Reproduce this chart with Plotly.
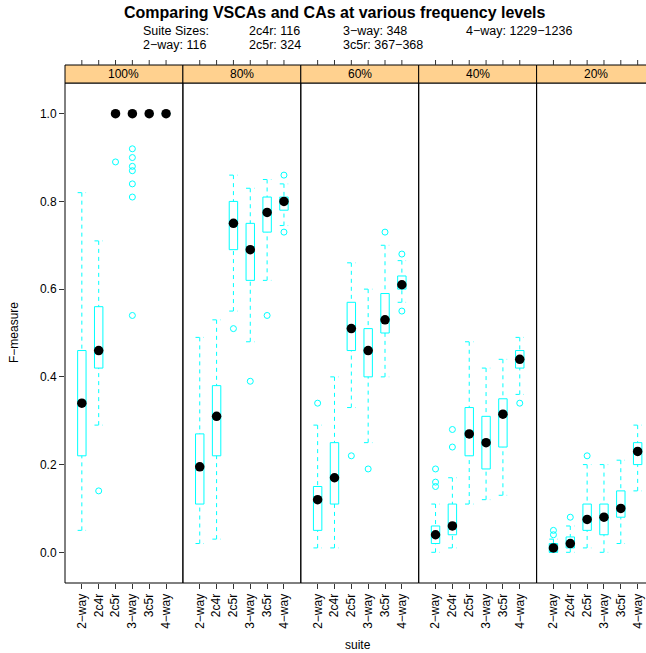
import plotly.graph_objects as go

# ---------------- data ----------------
categories = ["2−way", "2c4r", "2c5r", "3−way", "3c5r", "4−way"]
levels = ["100%", "80%", "60%", "40%", "20%"]

# per level: lists over categories
whisker_lo = {
    "100%": [0.05, 0.29, 1.0, 1.0, 1.0, 1.0],
    "80%":  [0.02, 0.03, 0.55, 0.48, 0.62, 0.745],
    "60%":  [0.01, 0.01, 0.33, 0.25, 0.40, 0.57],
    "40%":  [0.00, 0.01, 0.11, 0.12, 0.13, 0.36],
    "20%":  [0.00, 0.00, 0.01, 0.00, 0.02, 0.14],
}
q1 = {
    "100%": [0.22, 0.42, 1.0, 1.0, 1.0, 1.0],
    "80%":  [0.11, 0.22, 0.69, 0.62, 0.73, 0.78],
    "60%":  [0.05, 0.11, 0.46, 0.40, 0.50, 0.60],
    "40%":  [0.02, 0.04, 0.22, 0.19, 0.24, 0.42],
    "20%":  [0.00, 0.01, 0.05, 0.04, 0.08, 0.20],
}
median = {
    "100%": [0.34, 0.46, 1.0, 1.0, 1.0, 1.0],
    "80%":  [0.195, 0.31, 0.75, 0.69, 0.775, 0.80],
    "60%":  [0.12, 0.17, 0.51, 0.46, 0.53, 0.61],
    "40%":  [0.04, 0.06, 0.27, 0.25, 0.315, 0.44],
    "20%":  [0.01, 0.02, 0.075, 0.08, 0.10, 0.23],
}
q3 = {
    "100%": [0.46, 0.56, 1.0, 1.0, 1.0, 1.0],
    "80%":  [0.27, 0.38, 0.80, 0.75, 0.81, 0.81],
    "60%":  [0.15, 0.25, 0.57, 0.51, 0.59, 0.63],
    "40%":  [0.06, 0.11, 0.33, 0.31, 0.35, 0.46],
    "20%":  [0.02, 0.035, 0.11, 0.11, 0.14, 0.25],
}
whisker_hi = {
    "100%": [0.82, 0.71, 1.0, 1.0, 1.0, 1.0],
    "80%":  [0.49, 0.53, 0.86, 0.83, 0.85, 0.84],
    "60%":  [0.29, 0.40, 0.66, 0.60, 0.70, 0.665],
    "40%":  [0.11, 0.17, 0.48, 0.42, 0.44, 0.49],
    "20%":  [0.03, 0.06, 0.20, 0.20, 0.21, 0.29],
}
outliers = {
    "100%": [[], [0.14], [0.89], [0.92, 0.90, 0.88, 0.87, 0.84, 0.81, 0.54], [], []],
    "80%":  [[], [], [0.51], [0.39], [0.54], [0.86, 0.73]],
    "60%":  [[0.34], [], [0.22], [0.19], [0.73], [0.68, 0.55]],
    "40%":  [[0.19, 0.16, 0.15], [0.28, 0.24], [], [], [], [0.34]],
    "20%":  [[0.05, 0.04], [0.08], [0.22], [], [], []],
}
y_ticks = [0.0, 0.2, 0.4, 0.6, 0.8, 1.0]

title_text = "Comparing VSCAs and CAs at various frequency levels"
sizes_col = [
    ("Suite Sizes:", "2−way: 116"),
    ("2c4r: 116", "2c5r: 324"),
    ("3−way: 348", "3c5r: 367−368"),
    ("4−way: 1229−1236", ""),
]

# ---------------- layout geometry ----------------
W_PAGE, H_PAGE = 646, 653
L, T, B = 65, 83, 70
PW = W_PAGE - L            # plot area width (px)
PH = H_PAGE - T - B        # plot area height (px)
panel_px = 117.9           # panel width in px
units = 7.0                # x units per panel

def px(xp):
    return (xp - L) / PW

def py(yp):
    return (T + PH - yp) / PH

CYAN = "#00FFFF"
STRIP = "#FFD18F"
FONT = "Liberation Sans, Arial, Helvetica, sans-serif"
BOX_HW = 0.25

fig = go.Figure()
shapes = []
annotations = []
strip_top = py(65)

for i, lev in enumerate(levels):
    ax = "" if i == 0 else str(i + 1)
    xref = "x" + ax
    x0 = i * panel_px / PW
    x1 = min(1.0, (i + 1) * panel_px / PW)
    xmax = units * (x1 - x0) * PW / panel_px
    fig.layout["xaxis" + ax] = dict(
        domain=[x0, x1], range=[0, xmax], anchor="y",
        tickmode="array", tickvals=list(range(1, len(categories) + 1)),
        ticktext=categories, tickangle=-90, ticks="outside", ticklen=5,
        tickcolor="#333333", tickfont=dict(size=12, family=FONT, color="black"),
        showgrid=False, zeroline=False, showline=False, fixedrange=True,
    )

    bx, by, wx, wy, cx, cy, ox, oy, mx, my = [], [], [], [], [], [], [], [], [], []
    for j, cat in enumerate(categories):
        xc = j + 1
        a, b_, m, c, d = whisker_lo[lev][j], q1[lev][j], median[lev][j], q3[lev][j], whisker_hi[lev][j]
        # box
        bx += [xc - BOX_HW, xc + BOX_HW, xc + BOX_HW, xc - BOX_HW, xc - BOX_HW, None]
        by += [b_, b_, c, c, b_, None]
        # whiskers (from extreme to box)
        wx += [xc, xc, None, xc, xc, None]
        wy += [a, b_, None, d, c, None]
        # caps
        cx += [xc - BOX_HW, xc + BOX_HW, None, xc - BOX_HW, xc + BOX_HW, None]
        cy += [a, a, None, d, d, None]
        for o in outliers[lev][j]:
            ox.append(xc)
            oy.append(o)
        mx.append(xc)
        my.append(m)

    common = dict(xaxis=xref, yaxis="y", showlegend=False, hoverinfo="skip")
    fig.add_trace(go.Scatter(x=wx, y=wy, mode="lines",
                             line=dict(color=CYAN, width=1, dash="4px,4px"), **common))
    fig.add_trace(go.Scatter(x=cx, y=cy, mode="lines",
                             line=dict(color=CYAN, width=1, dash="4px,4px"), **common))
    fig.add_trace(go.Scatter(x=bx, y=by, mode="lines",
                             line=dict(color=CYAN, width=1), **common))
    fig.add_trace(go.Scatter(x=ox, y=oy, mode="markers",
                             marker=dict(symbol="circle-open", size=6, color=CYAN,
                                         line=dict(width=1, color=CYAN)), **common))
    fig.add_trace(go.Scatter(x=mx, y=my, mode="markers",
                             marker=dict(symbol="circle", size=9.5, color="black"), **common))

    # panel border
    line = dict(color="black", width=1)
    shapes.append(dict(type="line", xref="paper", yref="paper", x0=x0, x1=x0, y0=0, y1=1, line=line))
    shapes.append(dict(type="line", xref="paper", yref="paper", x0=x0, x1=x1, y0=0, y1=0, line=line))
    shapes.append(dict(type="line", xref="paper", yref="paper", x0=x0, x1=x1, y0=1, y1=1, line=line))
    if x1 < 1.0:
        shapes.append(dict(type="line", xref="paper", yref="paper", x0=x1, x1=x1, y0=0, y1=1, line=line))
    # strip
    shapes.append(dict(type="rect", xref="paper", yref="paper", x0=x0, x1=x1 + (0.01 if x1 >= 1.0 else 0),
                       y0=1, y1=strip_top, fillcolor=STRIP, line=dict(color="black", width=1), layer="above"))
    annotations.append(dict(text=lev, xref="paper", yref="paper", x=(x0 + (x0 + panel_px / PW)) / 2,
                            y=(1 + strip_top) / 2, showarrow=False, xanchor="center", yanchor="middle",
                            font=dict(size=12, family=FONT, color="black")))
    # top ticks above the strip
    for j in range(len(categories)):
        shapes.append(dict(type="line", xref=xref, yref="paper", x0=j + 1, x1=j + 1,
                           y0=strip_top, y1=strip_top + 5 / PH, line=dict(color="#333333", width=1)))

fig.update_layout(
    yaxis=dict(domain=[0, 1], range=[-0.07, 1.07], anchor="x", tickmode="array",
               tickvals=y_ticks, tickformat=".1f", ticks="outside", ticklen=5,
               tickcolor="#333333", tickfont=dict(size=12, family=FONT, color="black"),
               showgrid=False, zeroline=False, showline=False, fixedrange=True),
)

# title and subtitle
annotations.append(dict(text="<b>" + title_text + "</b>", xref="paper", yref="paper",
                        x=px(334.5), y=py(12), showarrow=False, xanchor="center", yanchor="middle",
                        font=dict(size=16, family=FONT, color="black")))
col_x = [141.5, 248, 342, 465]
for (t1, t2), cxp in zip(sizes_col, col_x):
    annotations.append(dict(text=t1, xref="paper", yref="paper", x=px(cxp), y=py(30.5), showarrow=False,
                            xanchor="left", yanchor="middle", borderpad=0,
                            font=dict(size=12.5, family=FONT, color="black")))
    if t2:
        annotations.append(dict(text=t2, xref="paper", yref="paper", x=px(cxp), y=py(44.5), showarrow=False,
                                xanchor="left", yanchor="middle", borderpad=0,
                                font=dict(size=12.5, family=FONT, color="black")))
# axis titles
annotations.append(dict(text="suite", xref="paper", yref="paper", x=px(358), y=py(645), showarrow=False,
                        xanchor="center", yanchor="middle", font=dict(size=12, family=FONT, color="black")))
annotations.append(dict(text="F−measure", xref="paper", yref="paper", x=px(14), y=py(333), showarrow=False,
                        xanchor="center", yanchor="middle", textangle=-90,
                        font=dict(size=12, family=FONT, color="black")))

fig.update_layout(
    width=W_PAGE, height=H_PAGE,
    margin=dict(l=L, r=0, t=T, b=B, pad=0),
    paper_bgcolor="white", plot_bgcolor="white",
    shapes=shapes, annotations=annotations,
    font=dict(family=FONT, color="black"),
)

fig.write_html("out.html", config={"displayModeBar": False})
